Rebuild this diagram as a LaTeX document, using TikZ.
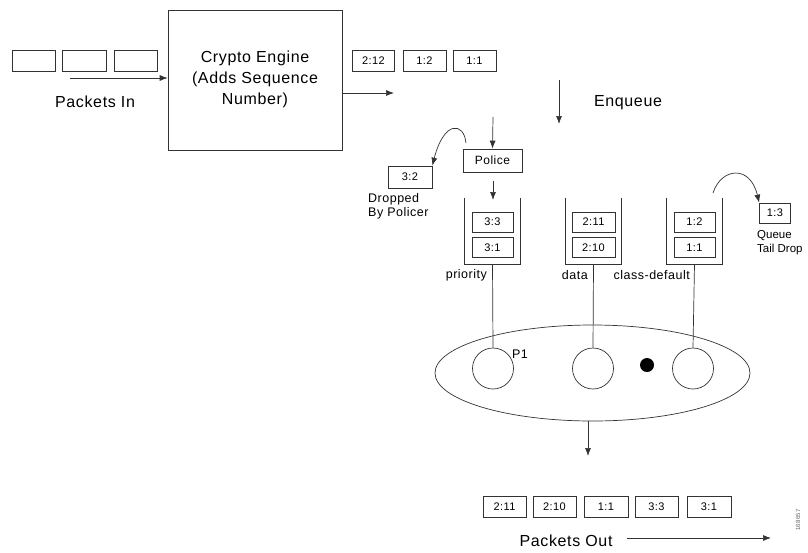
\documentclass[tikz,border=0pt]{standalone}
\usepackage{fontspec}
\setmainfont{Liberation Sans}[LetterSpace=4]
\newfontfamily\tightfont{Liberation Sans}
\usetikzlibrary{arrows.meta,shapes.geometric,calc}
\begin{document}
\begin{tikzpicture}[x=1pt,y=-1pt,
  ln/.style={draw=black!80, line width=0.7pt},
  arr/.style={ln, -{Latex[length=8pt,width=6pt]}},
  pkt/.style={ln, rectangle, inner sep=0pt, minimum height=21pt, font=\fontsize{11}{13}\selectfont},
  big/.style={font=\fontsize{16}{21}\selectfont, align=center, inner sep=0pt},
  lbl/.style={font=\fontsize{12.5}{14}\selectfont, inner sep=0pt},
  queue/.style={rectangle, inner sep=0pt, minimum width=55pt, minimum height=66pt},
  ring/.style={ln, circle, inner sep=0pt, minimum size=41pt}
]
\useasboundingbox (0,0) rectangle (808,552);

% input packets
\node[pkt, minimum width=43pt] (in1) at (33.5,61) {};
\node[pkt, minimum width=44pt] (in2) at (84,61) {};
\node[pkt, minimum width=43pt] (in3) at (135.5,61) {};
\node[big] (pin) at (95,102) {Packets In};

% crypto engine
\node[ln, rectangle, minimum width=174pt, minimum height=140pt, inner sep=0pt] (crypto) at (255,80) {};
\node[big] (ctext) at (255,79) {Crypto Engine\\(Adds Sequence\\Number)};
\coordinate (pinS) at (70,78);
\draw[arr] (pinS) -- (pinS -| crypto.west);
\coordinate (poE) at (394,93);
\draw[arr] (crypto.east |- poE) -- (poE);

% sequenced packets
\node[pkt, minimum width=42pt] (s1) at (373.5,61) {2:12};
\node[pkt, minimum width=43pt] (s2) at (424.5,61) {1:2};
\node[pkt, minimum width=43pt] (s3) at (474.5,61) {1:1};

% enqueue
\coordinate (enqA) at (559,80);
\coordinate (enqB) at (559,124);
\draw[arr] (enqA) -- (enqB);
\node[big] (enq) at (628,103) {Enqueue};

% police
\node[pkt, minimum width=59pt, minimum height=23pt, font=\fontsize{12}{14}\selectfont] (police) at (492.5,160.5) {Police};
\coordinate (polA) at (493,117);
\draw[arr] (polA) -- (police.north);
\coordinate (polB) at (493,181);
\coordinate (polC) at (493,200);
\draw[arr] (polB) -- (polC);

% dropped by policer
\node[pkt, minimum width=44pt, minimum height=22pt] (drop) at (410,177) {3:2};
\coordinate (dropS) at (466,143);
\draw[arr] (dropS) .. controls (464,122) and (444,120) .. (drop.north east);
\node[lbl, anchor=north west, align=left] (droptxt) at (368,193) {Dropped\\By Policer};

% queues
\foreach \n/\x in {qp/492.5, qd/593.5, qc/694.5}{
  \node[queue] (\n) at (\x,231) {};
  \draw[ln] (\n.north west) -- (\n.south west) -- (\n.south east) -- (\n.north east);
}
\node[pkt, minimum width=41pt, minimum height=20pt] (p33) at (492.5,222) {3:3};
\node[pkt, minimum width=41pt, minimum height=20pt] (p31) at (492.5,247.5) {3:1};
\node[pkt, minimum width=43pt, minimum height=20pt] (d211) at (593.5,222) {2:11};
\node[pkt, minimum width=43pt, minimum height=20pt] (d210) at (593.5,247.5) {2:10};
\node[pkt, minimum width=41pt, minimum height=20pt] (c12) at (694.5,222) {1:2};
\node[pkt, minimum width=41pt, minimum height=20pt] (c11) at (694.5,247.5) {1:1};

\node[lbl, anchor=east] (lp) at (487,275) {priority};
\node[lbl, anchor=east] (ld) at (588,275) {data};
\node[lbl, anchor=east] (lc) at (690,275) {class-default};

% tail drop
\node[pkt, minimum width=31pt, minimum height=20pt] (tail) at (775,213) {1:3};
\coordinate (tailS) at (713,193);
\draw[arr] (tailS) .. controls (721,168) and (750,164) .. (tail.north west);
\node[anchor=north west, align=left, inner sep=0pt, font=\tightfont\fontsize{11.5}{14}\selectfont] (tailtxt) at (757,230) {Queue\\Tail Drop};

% scheduler
\node[ln, ellipse, minimum width=315pt, minimum height=96pt, inner sep=0pt] (sched) at (592.5,373) {};
\node[ring] (cp) at (493,368.5) {};
\node[ring] (cd) at (593,368.5) {};
\node[ring] (cc) at (693,368.5) {};
\node[circle, fill=black, inner sep=0pt, minimum size=14pt] (dot) at (647,365) {};
\node[lbl] (p1) at (520,354) {P1};
\draw[ln] (qp.south) -- (cp.north);
\draw[ln] (qd.south) -- (cd.north);
\draw[ln] (qc.south) -- (cc.north);

% output
\coordinate (outA) at (588,421);
\coordinate (outB) at (588,456);
\draw[arr] (outA) -- (outB);
\node[pkt, minimum width=43pt] (o1) at (504.5,506.5) {2:11};
\node[pkt, minimum width=43pt] (o2) at (554.5,506.5) {2:10};
\node[pkt, minimum width=44pt] (o3) at (606,506.5) {1:1};
\node[pkt, minimum width=43pt] (o4) at (656.5,506.5) {3:3};
\node[pkt, minimum width=44pt] (o5) at (709,506.5) {3:1};
\node[big] (pout) at (566,541) {Packets Out};
\coordinate (poutA) at (627,538);
\coordinate (poutB) at (771,538);
\draw[arr] (poutA) -- (poutB);

\node[font=\fontsize{6}{7}\selectfont, rotate=90, inner sep=0pt, text=black!60] (fig) at (798,520) {168657};
\end{tikzpicture}
\end{document}
